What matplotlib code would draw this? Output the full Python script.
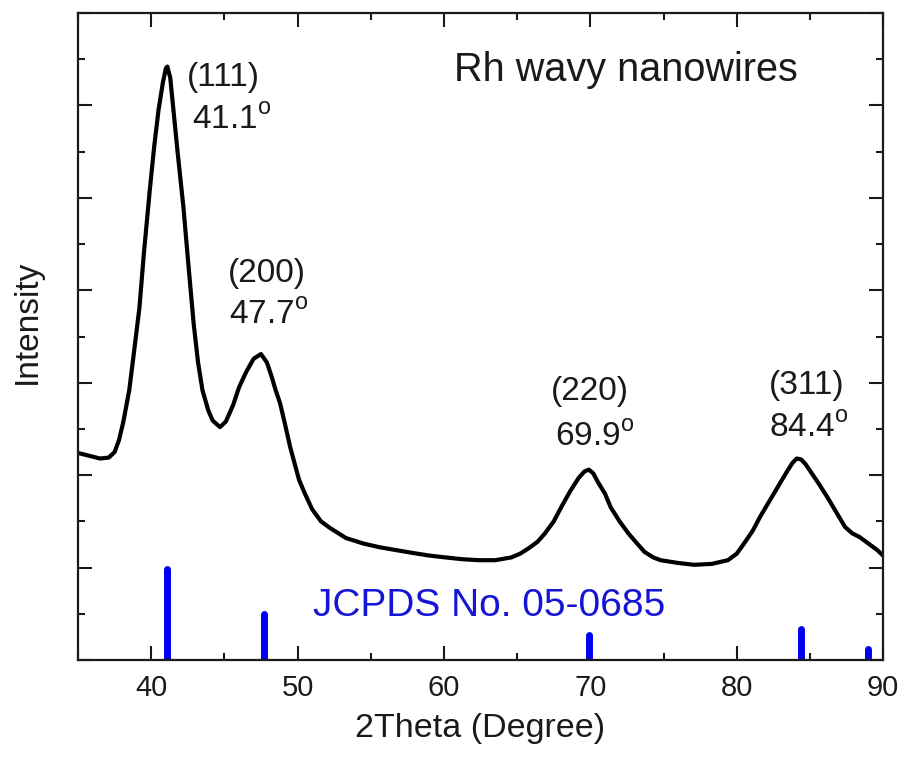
import matplotlib
matplotlib.use("Agg")
import matplotlib.pyplot as plt
from matplotlib.ticker import MultipleLocator, NullFormatter

# XRD pattern (2theta in degree, intensity in a.u.)
two_theta = [35.0, 35.5, 36.0, 36.5, 37.1, 37.5, 37.8, 38.1, 38.5, 38.8, 39.2,
             39.5, 39.9, 40.2, 40.5, 40.8, 41.0, 41.1, 41.3, 41.5, 41.8, 42.2,
             42.5, 42.9, 43.2, 43.5, 43.9, 44.2, 44.7, 45.1, 45.6, 46.0, 46.5,
             47.0, 47.5, 47.9, 48.2, 48.5, 48.8, 49.1, 49.5, 50.1, 50.5, 51.0,
             51.6, 52.2, 52.8, 53.3, 54.5, 55.6, 56.7, 57.8, 59.0, 60.1, 61.3,
             62.4, 63.5, 64.6, 65.2, 65.8, 66.4, 66.9, 67.5, 68.0, 68.6, 69.2,
             69.6, 69.9, 70.2, 70.5, 71.0, 71.4, 72.0, 72.6, 73.2, 73.7, 74.3,
             74.8, 76.0, 77.1, 78.3, 79.4, 80.0, 80.5, 81.1, 81.6, 82.2, 82.8,
             83.4, 83.8, 84.1, 84.4, 84.7, 85.0, 85.6, 86.2, 86.8, 87.4, 87.9,
             88.4, 89.0, 89.6, 90.0]
intensity = [2.24, 2.22, 2.20, 2.18, 2.19, 2.25, 2.38, 2.58, 2.92, 3.30, 3.82,
             4.40, 5.08, 5.55, 5.95, 6.25, 6.40, 6.42, 6.30, 5.98, 5.50, 4.90,
             4.35, 3.64, 3.22, 2.92, 2.70, 2.59, 2.52, 2.58, 2.76, 2.95, 3.12,
             3.26, 3.31, 3.22, 3.08, 2.92, 2.78, 2.58, 2.30, 1.95, 1.80, 1.63,
             1.50, 1.43, 1.37, 1.32, 1.26, 1.22, 1.19, 1.16, 1.13, 1.11, 1.09,
             1.08, 1.08, 1.11, 1.15, 1.21, 1.28, 1.37, 1.50, 1.65, 1.82, 1.97,
             2.04, 2.06, 2.02, 1.93, 1.80, 1.65, 1.50, 1.37, 1.26, 1.17, 1.11,
             1.08, 1.05, 1.03, 1.04, 1.08, 1.15, 1.26, 1.40, 1.55, 1.71, 1.87,
             2.03, 2.13, 2.18, 2.17, 2.12, 2.05, 1.91, 1.76, 1.60, 1.44, 1.37,
             1.33, 1.26, 1.19, 1.13]

# JCPDS No. 05-0685 reference lines
ref_pos = [41.1, 47.7, 69.9, 84.4, 89.0]
ref_height = [0.98, 0.50, 0.27, 0.34, 0.12]

# peak labels: hkl text position and angle text position
peak_hkl = ["(111)", "(200)", "(220)", "(311)"]
peak_angle = ["41.1", "47.7", "69.9", "84.4"]
hkl_xy = [(44.9, 6.30), (47.9, 4.18), (70.0, 2.90), (84.8, 2.97)]
angle_xy = [(45.5, 5.84), (48.0, 3.73), (70.3, 2.41), (84.9, 2.51)]

plt.rcParams["font.family"] = ["Liberation Sans", "DejaVu Sans"]
plt.rcParams["mathtext.fontset"] = "custom"
plt.rcParams["mathtext.rm"] = "Liberation Sans"
text_color = "#1a1a1a"

fig = plt.figure(figsize=(9.02, 7.59), dpi=100)
ax = fig.add_axes([0.0865, 0.1304, 0.8925, 0.8525])

ax.plot(two_theta, intensity, color="black", lw=3.0, solid_joinstyle="round")
bars = ax.vlines(ref_pos, 0, ref_height, color="#0000f0", lw=5.0)
bars.set_capstyle("round")

for hkl, ang, hxy, axy in zip(peak_hkl, peak_angle, hkl_xy, angle_xy):
    ax.text(hxy[0], hxy[1], hkl, ha="center", va="center", fontsize=24,
            color=text_color)
    ax.text(axy[0], axy[1], ang + r"$^\mathregular{o}$", ha="center", va="center",
            fontsize=24, color=text_color)

ax.text(72.4, 6.38, "Rh wavy nanowires", ha="center", va="center", fontsize=28.5,
        color=text_color)
ax.text(63.1, 0.585, "JCPDS No. 05-0685", ha="center", va="center", fontsize=28,
        color="#1515d5")

ax.set_xlim(35, 90)
ax.set_ylim(0, 7)
ax.xaxis.set_major_locator(MultipleLocator(10))
ax.xaxis.set_minor_locator(MultipleLocator(5))
ax.yaxis.set_major_locator(MultipleLocator(1))
ax.yaxis.set_minor_locator(MultipleLocator(0.5))
ax.yaxis.set_major_formatter(NullFormatter())
ax.tick_params(which="both", direction="in", top=True, right=True, width=1.5,
               colors="#1a1a1a")
ax.tick_params(which="major", length=10)
ax.tick_params(which="minor", length=5)
ax.tick_params(axis="x", labelsize=21, pad=10, labelcolor=text_color)
for sp in ax.spines.values():
    sp.set_linewidth(1.6)
    sp.set_color("#1a1a1a")

ax.set_xlabel("2Theta (Degree)", fontsize=24.5, color=text_color, labelpad=8)
ax.set_ylabel("Intensity", fontsize=24, color=text_color, va="center")
ax.yaxis.set_label_coords(-0.063, 0.522)

fig.savefig("out.png", dpi=100)
